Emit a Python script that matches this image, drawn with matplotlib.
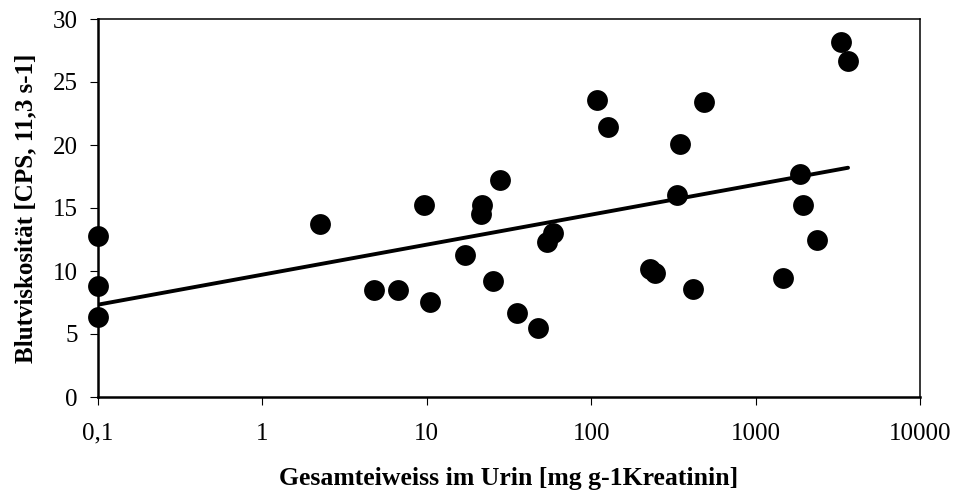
import numpy as np
import matplotlib
matplotlib.use("Agg")
import matplotlib.pyplot as plt

plt.rcParams['font.family'] = ['Liberation Serif', 'DejaVu Serif']

# Gesamteiweiss im Urin [mg/g Kreatinin] und Blutviskositaet [CPS]
protein = [0.1, 0.1, 0.1, 2.24, 4.8, 6.7, 10.4, 9.6, 17.1, 21.7, 21.5,
           27.9, 25.3, 35.4, 47.5, 53.8, 58.6, 108, 126, 347, 485, 333,
           228, 244, 416, 1470, 1860, 1940, 2360, 3300, 3650]
viscosity = [12.75, 8.8, 6.35, 13.7, 8.5, 8.5, 7.55, 15.25, 11.3, 15.2, 14.5,
             17.2, 9.2, 6.7, 5.5, 12.3, 13.0, 23.55, 21.4, 20.05, 23.45, 16.0,
             10.15, 9.85, 8.55, 9.45, 17.7, 15.25, 12.45, 28.2, 26.7]

xticks = [0.1, 1, 10, 100, 1000, 10000]
xticklabels = ['0,1', '1', '10', '100', '1000', '10000']
yticks = [0, 5, 10, 15, 20, 25, 30]

# lineare Regression gegen log10(Eiweiss)
logx = np.log10(protein)
slope, intercept = np.polyfit(logx, viscosity, 1)

fig = plt.figure(figsize=(9.57, 4.95), dpi=100)
ax = fig.add_axes([98 / 957, 1 - 397 / 495, 822 / 957, 378 / 495])

ax.scatter(protein, viscosity, s=225, color='black', marker='o',
           linewidths=0, zorder=3, clip_on=False)

line_x = np.array([min(protein), max(protein)])
line_y = intercept + slope * np.log10(line_x)
ax.plot(line_x, line_y, color='black', linewidth=2.8, solid_capstyle='round',
        zorder=4)

ax.set_xscale('log')
ax.set_xlim(0.1, 10000)
ax.set_ylim(0, 30)
ax.set_xticks(xticks)
ax.set_xticklabels(xticklabels)
ax.minorticks_off()
ax.set_yticks(yticks)

ax.tick_params(axis='both', direction='out', length=5.5, width=0.8,
               labelsize=18, colors='black')
ax.tick_params(axis='x', pad=13)
ax.tick_params(axis='y', pad=9)

for side in ['left', 'bottom']:
    ax.spines[side].set_linewidth(1.8)
for side in ['top', 'right']:
    ax.spines[side].set_linewidth(1.1)

ax.set_xlabel('Gesamteiweiss im Urin [mg g-1Kreatinin]', fontsize=18.5,
              fontweight='bold', labelpad=16)
ax.set_ylabel('Blutviskosität [CPS, 11,3 s-1]', fontsize=18,
              fontweight='bold', labelpad=11.5)

fig.savefig('out.png', dpi=100)
